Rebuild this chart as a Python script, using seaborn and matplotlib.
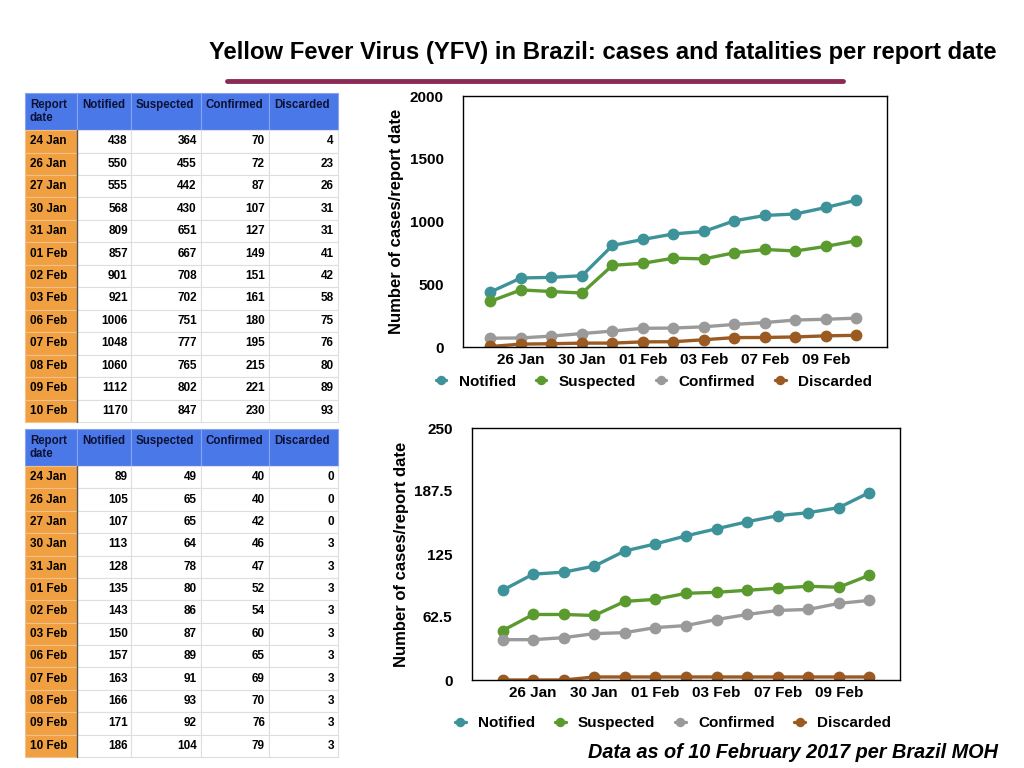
import numpy as np
import pandas as pd
import matplotlib
matplotlib.use("Agg")
import matplotlib.pyplot as plt
import seaborn as sns

# --- data (all cases / deaths) ---
report_dates = ["24 Jan", "26 Jan", "27 Jan", "30 Jan", "31 Jan", "01 Feb", "02 Feb",
                "03 Feb", "06 Feb", "07 Feb", "08 Feb", "09 Feb", "10 Feb"]

cases_notified = [438, 550, 555, 568, 809, 857, 901, 921, 1006, 1048, 1060, 1112, 1170]
cases_suspected = [364, 455, 442, 430, 651, 667, 708, 702, 751, 777, 765, 802, 847]
cases_confirmed = [70, 72, 87, 107, 127, 149, 151, 161, 180, 195, 215, 221, 230]
cases_discarded = [4, 23, 26, 31, 31, 41, 42, 58, 75, 76, 80, 89, 93]

deaths_notified = [89, 105, 107, 113, 128, 135, 143, 150, 157, 163, 166, 171, 186]
deaths_suspected = [49, 65, 65, 64, 78, 80, 86, 87, 89, 91, 93, 92, 104]
deaths_confirmed = [40, 40, 42, 46, 47, 52, 54, 60, 65, 69, 70, 76, 79]
deaths_discarded = [0, 0, 0, 3, 3, 3, 3, 3, 3, 3, 3, 3, 3]

series_names = ["Notified", "Suspected", "Confirmed", "Discarded"]
x_tick_labels = ["26 Jan", "30 Jan", "01 Feb", "03 Feb", "07 Feb", "09 Feb"]
x_tick_pos = [1, 3, 5, 7, 9, 11]

colors = {"Notified": "#3d9399", "Suspected": "#5b9a2f",
          "Confirmed": "#9a9a9a", "Discarded": "#9a5a22"}

cases = pd.DataFrame({"date": report_dates, "Notified": cases_notified,
                      "Suspected": cases_suspected, "Confirmed": cases_confirmed,
                      "Discarded": cases_discarded})
deaths = pd.DataFrame({"date": report_dates, "Notified": deaths_notified,
                       "Suspected": deaths_suspected, "Confirmed": deaths_confirmed,
                       "Discarded": deaths_discarded})

sns.set_theme(style="white")
plt.rcParams["font.family"] = ["Liberation Sans", "DejaVu Sans"]
plt.rcParams["font.weight"] = "bold"
for key in ["text.color", "axes.labelcolor", "xtick.color", "ytick.color"]:
    plt.rcParams[key] = "black"

W, H = 1024, 768
fig = plt.figure(figsize=(W / 100, H / 100), dpi=100)


def px_axes(x0, y0, x1, y1):
    """Axes from pixel box (top-left origin)."""
    return fig.add_axes([x0 / W, 1 - y1 / H, (x1 - x0) / W, (y1 - y0) / H])


# --- tables ---
def draw_table(ax, df):
    ax.axis("off")
    body = [[d] + [str(df.loc[i, s]) for s in series_names] for i, d in enumerate(df["date"])]
    headers = ["Report\ndate"] + [s + "\n " for s in series_names]
    col_w = np.array([52, 54, 70, 68, 69], dtype=float)
    tbl = ax.table(cellText=body, colLabels=headers, colWidths=list(col_w / col_w.sum()),
                   cellLoc="right", colLoc="left", bbox=[0, 0, 1, 1])
    tbl.auto_set_font_size(False)
    tbl.set_fontsize(8.5)
    for (r, c), cell in tbl.get_celld().items():
        txt = cell.get_text()
        txt.set_fontweight("bold")
        txt.set_color("black")
        cell.set_linewidth(0.8)
        cell.PAD = 0.06
        if r == 0:
            cell.set_height(37)
            cell.set_facecolor("#4a78e8")
            cell.set_edgecolor("#86a4f0")
            txt.set_multialignment("left")
            txt.set_color("#0d1233")
            txt.set_fontsize(8.3)
            cell.PAD = 5.0 / col_w[c]
        else:
            cell.set_height(22.4)
            if c == 0:
                cell.set_facecolor("#f0a040")
                cell.set_edgecolor("#f2c088")
                cell._loc = "left"
                txt.set_horizontalalignment("left")
                cell.PAD = 5.0 / col_w[c]
            else:
                cell.set_facecolor("white")
                cell.set_edgecolor("#dedede")
    frac = 22.4 * 13 / (37 + 22.4 * 13)
    ax.plot([col_w[0] / col_w.sum()] * 2, [0, frac], color="#555555", lw=1.0,
            transform=ax.transAxes, clip_on=False)


draw_table(px_axes(25, 93, 338, 422), cases)
draw_table(px_axes(25, 429, 338, 757), deaths)


# --- line charts ---
def draw_chart(ax, df, yticks, ytick_labels, xlim, legend_anchor):
    long = df.melt(id_vars="date", value_vars=series_names, var_name="series", value_name="count")
    long["pos"] = long["date"].map({d: i for i, d in enumerate(report_dates)})
    sns.lineplot(data=long, x="pos", y="count", hue="series", hue_order=series_names,
                 palette=colors, marker="o", markersize=8.5, markeredgewidth=0,
                 linewidth=2.4, ax=ax)
    ax.set_xlim(*xlim)
    ax.set_ylim(yticks[0], yticks[-1])
    ax.set_yticks(yticks)
    ax.set_yticklabels(ytick_labels, fontsize=11, fontweight="bold")
    ax.set_xticks(x_tick_pos)
    ax.set_xticklabels(x_tick_labels, fontsize=11, fontweight="bold")
    ax.tick_params(axis="both", length=0, pad=4)
    ax.tick_params(axis="y", pad=14)
    ax.set_xlabel("")
    ax.set_ylabel("Number of cases/report date", fontsize=12, fontweight="bold", labelpad=4)
    for sp in ax.spines.values():
        sp.set_visible(True)
        sp.set_color("black")
        sp.set_linewidth(1.0)
    ax.legend(loc="upper center", bbox_to_anchor=legend_anchor, ncol=4, frameon=False,
              handlelength=0.7, handletextpad=0.8, columnspacing=1.3, markerscale=0.8,
              prop={"size": 11, "weight": "bold"})


ax1 = px_axes(463, 96, 887, 347)
draw_chart(ax1, cases, [0, 500, 1000, 1500, 2000], ["0", "500", "1000", "1500", "2000"],
           (-0.9, 13.0), (0.45, -0.055))

ax2 = px_axes(472, 428, 900, 680)
draw_chart(ax2, deaths, [0, 62.5, 125, 187.5, 250], ["0", "62.5", "125", "187.5", "250"],
           (-1.0, 13.0), (0.47, -0.09))

# --- title, rule, footnote ---
fig.text(603 / W, 1 - 53 / H, "Yellow Fever Virus (YFV) in Brazil: cases and fatalities per report date",
         ha="center", va="center", fontsize=17.2, fontweight="bold")
fig.add_artist(plt.Line2D([227 / W, 843 / W], [1 - 81 / H, 1 - 81 / H], color="#8b2a55", lw=3.5))
fig.text(998 / W, 1 - 752 / H, "Data as of 10 February 2017 per Brazil MOH",
         ha="right", va="center", fontsize=14.3, fontweight="bold", style="italic")

fig.savefig("out.png", dpi=100)
